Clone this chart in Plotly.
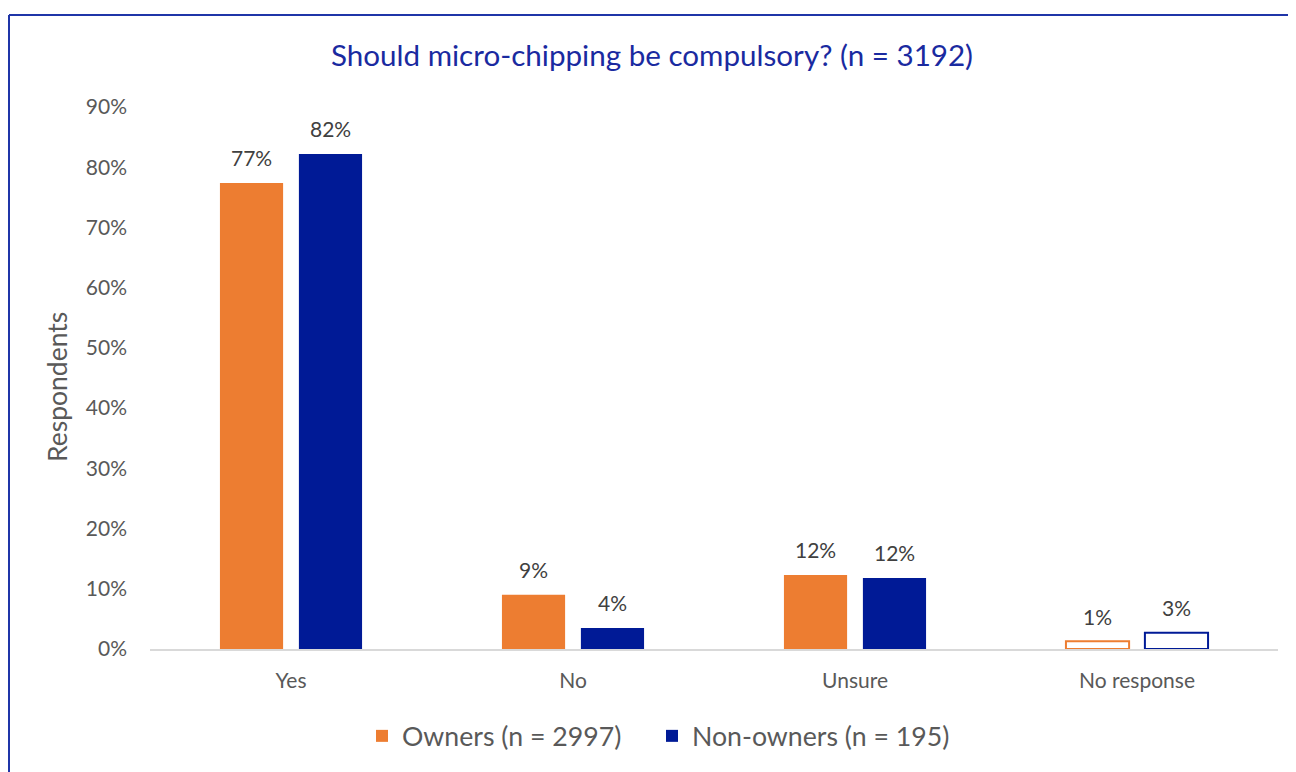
import plotly.graph_objects as go

categories = ["Yes", "No", "Unsure", "No response"]
owners = [0.774, 0.090, 0.123, 0.013]
non_owners = [0.822, 0.035, 0.118, 0.027]
series_names = ["Owners (n = 2997)", "Non-owners (n = 195)"]
title_text = "Should micro-chipping be compulsory? (n = 3192)"
y_title = "Respondents"

ORANGE = "#ED7D31"
NAVY = "#001A96"
FRAME = "#1F35A8"
TXT = "#595959"
FONT = "Lato"

# page has 8px body margin; figure coords = reference coords - 8
W, H = 1288, 764
L, R, T, B = 142, 18, 99, 123
pw, ph = W - L - R, H - T - B
BARGAP, GROUPGAP = 0.44, 0.2
slot_px = (1 - BARGAP) * (pw / len(categories)) / 2


def px_x(x):
    return (x - L) / pw


def px_y(y):
    return (H - B - y) / ph


def make_trace(name, vals, color, legend):
    fills = [color if c != "No response" else "white" for c in categories]
    lws = [0 if c != "No response" else 2 for c in categories]
    return go.Bar(
        name=name, x=categories, y=vals, legend=legend,
        marker=dict(color=fills, line=dict(color=color, width=lws)),
        cliponaxis=False,
    )


fig = go.Figure()
fig.add_trace(make_trace(series_names[0], owners, ORANGE, "legend"))
fig.add_trace(make_trace(series_names[1], non_owners, NAVY, "legend2"))

annotations = []
for vals, sign in ((owners, -1), (non_owners, 1)):
    for c, v in zip(categories, vals):
        annotations.append(dict(
            x=c, y=v, xref="x", yref="y", text=f"{round(v * 100)}%",
            showarrow=False, xanchor="center", yanchor="middle",
            xshift=sign * slot_px / 2, yshift=25,
            font=dict(size=21, color="#404040", family=FONT)))

annotations.append(dict(text=y_title, xref="paper", yref="paper",
                        x=px_x(49), y=px_y(379), textangle=-90, showarrow=False,
                        xanchor="center", yanchor="middle",
                        font=dict(size=26.5, color=TXT)))

legend_style = dict(orientation="h", xref="container", xanchor="left",
                    yref="container", y=1 - 728 / H, yanchor="middle",
                    font=dict(size=26.7, color=TXT), itemwidth=30,
                    bgcolor="rgba(0,0,0,0)")

fig.update_layout(
    width=W, height=H,
    margin=dict(l=L, r=R, t=T, b=B),
    paper_bgcolor="white", plot_bgcolor="white",
    font=dict(family=FONT, color=TXT),
    bargap=BARGAP, bargroupgap=GROUPGAP,
    title=dict(text=title_text, x=0.5, xref="container", xanchor="center",
               y=1 - 48 / H, yref="container", yanchor="middle",
               font=dict(size=29.6, color="#1A2AA0", family=FONT)),
    showlegend=True,
    legend=dict(x=354 / W, **legend_style),
    legend2=dict(x=644 / W, **legend_style),
    xaxis=dict(showline=True, linecolor="#D9D9D9", linewidth=1.5,
               ticks="", tickfont=dict(size=21, color=TXT), ticklabelstandoff=12),
    yaxis=dict(range=[0, 0.9], dtick=0.1, tickformat=".0%", showgrid=False,
               zeroline=False, showline=False, ticks="",
               tickfont=dict(size=21, color=TXT), ticklabelstandoff=22),
    annotations=annotations,
    shapes=[
        dict(type="line", xref="paper", yref="paper", x0=px_x(1), x1=px_x(1),
             y0=px_y(7), y1=px_y(800), line=dict(color=FRAME, width=2)),
        dict(type="line", xref="paper", yref="paper", x0=px_x(1), x1=px_x(1300),
             y0=px_y(7), y1=px_y(7), line=dict(color=FRAME, width=2)),
    ],
)

fig.write_html("out.html")
